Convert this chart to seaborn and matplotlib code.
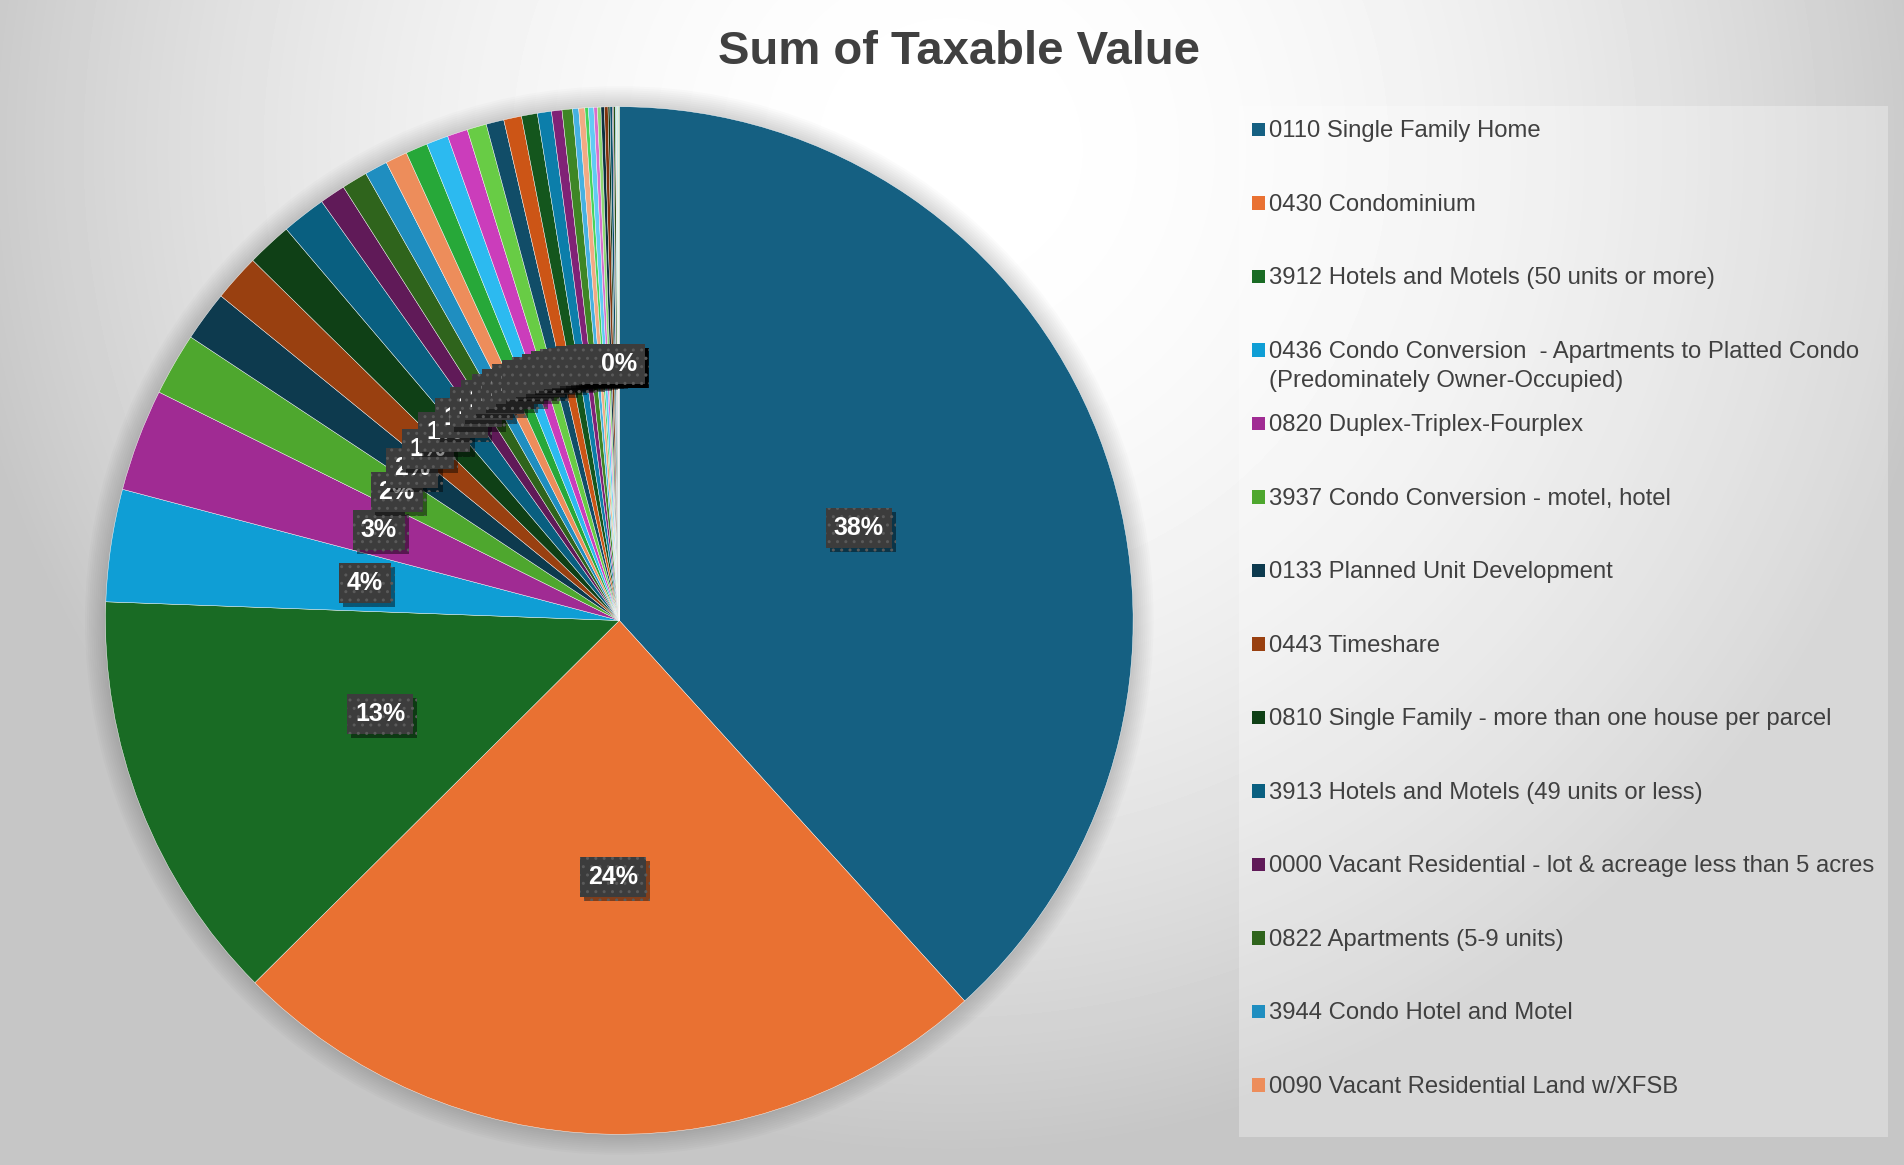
import colorsys
import numpy as np
import matplotlib
matplotlib.use("Agg")
import matplotlib.pyplot as plt
import matplotlib.patheffects as pe
from matplotlib.patches import Rectangle, Circle
import seaborn as sns

title = "Sum of Taxable Value"

# only the first 14 categories are listed in the legend
legend_labels = [
    "0110 Single Family Home",
    "0430 Condominium",
    "3912 Hotels and Motels (50 units or more)",
    "0436 Condo Conversion  - Apartments to Platted Condo\n(Predominately Owner-Occupied)",
    "0820 Duplex-Triplex-Fourplex",
    "3937 Condo Conversion - motel, hotel",
    "0133 Planned Unit Development",
    "0443 Timeshare",
    "0810 Single Family - more than one house per parcel",
    "3913 Hotels and Motels (49 units or less)",
    "0000 Vacant Residential - lot & acreage less than 5 acres",
    "0822 Apartments (5-9 units)",
    "3944 Condo Hotel and Motel",
    "0090 Vacant Residential Land w/XFSB",
]

# share of the total taxable value (%)
share_listed = [38.27, 24.28, 13.03, 3.53, 3.22, 1.97, 1.58, 1.48, 1.42, 1.39,
                0.81, 0.81, 0.72, 0.69]
share_unlisted = [0.69, 0.69, 0.64, 0.61, 0.56, 0.56, 0.50, 0.44, 0.33, 0.33,
                  0.19, 0.19, 0.11, 0.17, 0.11, 0.11, 0.11, 0.11, 0.06, 0.08,
                  0.03, 0.06, 0.02, 0.02, 0.02, 0.02, 0.02, 0.02]
shares = share_listed + share_unlisted

# Office theme accents, cycled with Excel's lighter / darker variants
accents = ["#156082", "#E97132", "#196B24", "#0F9ED5", "#A02B93", "#4EA72E"]
variants = [(1.0, 0.0), (0.6, 0.0), (0.8, 0.2), (0.8, 0.0),
            (0.6, 0.4), (0.5, 0.0), (0.7, 0.3), (0.7, 0.0)]


def office_color(i):
    r, g, b = matplotlib.colors.to_rgb(accents[i % 6])
    mod, off = variants[i // 6]
    h, l, s = colorsys.rgb_to_hls(r, g, b)
    return colorsys.hls_to_rgb(h, min(1.0, l * mod + off), s)


sns.set_theme(style="white")
plt.rcParams["font.family"] = ["Liberation Sans", "DejaVu Sans"]
palette = sns.color_palette([office_color(i) for i in range(len(shares))])

W, H = 1904, 1165
fig = plt.figure(figsize=(W / 100, H / 100), dpi=100)

# soft radial background
bg = fig.add_axes([0, 0, 1, 1], zorder=0)
yy, xx = np.mgrid[0:H, 0:W]
d = np.hypot(xx - 950, yy - 150) / 1000
shade = 1 - (57 / 255) * np.clip(d, 0, 1) ** 2
bg.imshow(shade, cmap="gray", vmin=0, vmax=1, aspect="auto", interpolation="bilinear")
bg.axis("off")

# pie axes
R = 513.8
cx, cy = 619.3, 620.5
half = 1.06 * R
ax = fig.add_axes([(cx - half) / W, (H - cy - half) / H, 2 * half / W, 2 * half / H], zorder=1)
ax.set_facecolor("none")

for k in range(1, 11):
    ax.add_patch(Circle((0, 0), 1 + 0.004 * k, color="black", alpha=0.017, lw=0, zorder=0))

wedges, autotexts = ax.pie(
    shares, colors=palette, startangle=90, counterclock=False, radius=1,
    autopct="%.0f%%", pctdistance=0.5,
    wedgeprops=dict(edgecolor="white", linewidth=0.3),
    textprops=dict(color="white", fontsize=18, fontweight="bold"),
)[::2]

for t in autotexts:
    t.set_bbox(dict(boxstyle="square,pad=0.32", facecolor="#3c3c3c",
                    edgecolor="#5a5a5a", linewidth=0, hatch=".."))
    t.get_bbox_patch().set_path_effects(
        [pe.withSimplePatchShadow(offset=(3, -3), shadow_rgbFace="black", alpha=0.45)])

ax.set_xlim(-1.06, 1.06)
ax.set_ylim(-1.06, 1.06)
ax.set_aspect("equal")

fig.text(959 / W, 1 - 64 / H, title, fontsize=34, fontweight="bold",
         color="#404040", ha="center", va="baseline")

# legend panel
fig.add_artist(Rectangle((1239 / W, 1 - 1137 / H), 649 / W, 1031 / H,
                         transform=fig.transFigure, facecolor="white",
                         alpha=0.3, lw=0, zorder=2))
step = 73.5
line_gap = 29
for i, lab in enumerate(legend_labels):
    base = 137.3 + i * step
    fig.add_artist(Rectangle((1251.5 / W, 1 - (base - 1.3) / H), 13 / W, 13.3 / H,
                             transform=fig.transFigure, facecolor=palette[i],
                             lw=0, zorder=3))
    last_base = base + lab.count("\n") * line_gap
    fig.text(1269 / W, 1 - last_base / H, lab, fontsize=17.2, color="#404040",
             va="baseline", ha="left", linespacing=1.42, zorder=3)

fig.savefig("out.png", dpi=100)
